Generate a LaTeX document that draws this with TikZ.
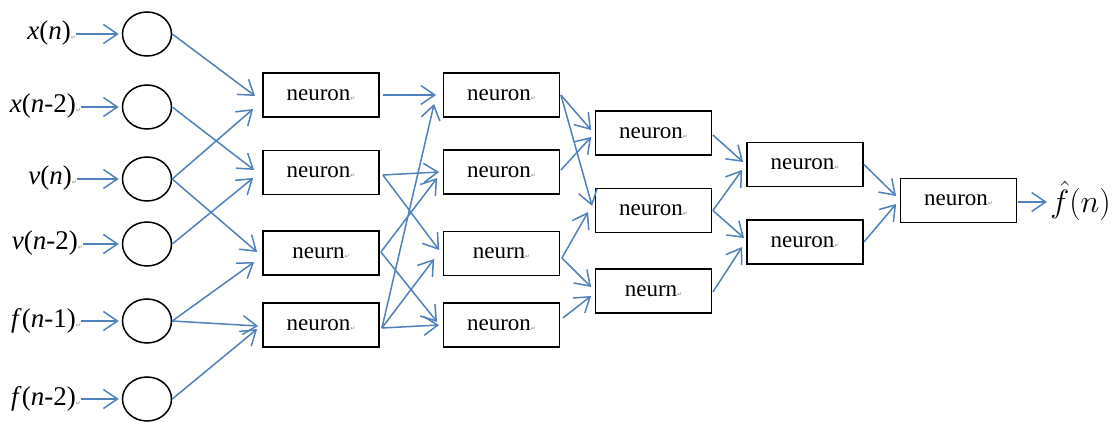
\documentclass[tikz,border=0pt]{standalone}
\usepackage{fontspec}
\setmainfont{Liberation Serif}
\newfontfamily\symfont{DejaVu Sans}
\usetikzlibrary{arrows.meta,shapes.geometric,calc}
\definecolor{lineblue}{RGB}{79,129,189}
\newcommand{\pmark}{{\symfont\fontsize{6}{6}\selectfont\color{gray}↵}}
\begin{document}
\begin{tikzpicture}[x=1pt,y=-1pt,
  neu/.style={draw=black,line width=1.8pt,minimum width=116pt,minimum height=44pt,inner sep=0pt,font=\fontsize{23}{23}\selectfont},
  inp/.style={ellipse,draw=black,line width=1.5pt,minimum width=49pt,minimum height=44pt,inner sep=0pt},
  lab/.style={inner sep=0pt,anchor=base east,font=\fontsize{27}{27}\selectfont},
  conn/.style={draw=lineblue,line width=1.5pt,-{Straight Barb[length=14pt,width=19pt]}}]
\useasboundingbox[fill=white] (0,0) rectangle (1120,422);
% input circles
\node[inp] (c1) at (147,34) {};
\node[inp] (c2) at (147,107) {};
\node[inp] (c3) at (147,179) {};
\node[inp] (c4) at (147,244) {};
\node[inp] (c5) at (147,321) {};
\node[inp] (c6) at (147,399) {};
% input labels
\node[lab] (lx1) at (76,40) {\textit{x}(\textit{n})\pmark};
\node[lab] (lx2) at (81,113) {\textit{x}(\textit{n}-2)\pmark};
\node[lab] (lx3) at (77,185) {\textit{v}(\textit{n})\pmark};
\node[lab] (lx4) at (83,250) {\textit{v}(\textit{n}-2)\pmark};
\node[lab] (lx5) at (81,327) {\textit{f}(\textit{n}-1)\pmark};
\node[lab] (lx6) at (81,405) {\textit{f}(\textit{n}-2)\pmark};
\foreach \i in {1,...,6}{
  \draw[conn] (lx\i.east |- c\i.west) -- ($(c\i.west)+(-3,0)$);
}
% layer 1
\node[neu] (L1a) at (321,95) {neuron\pmark};
\node[neu] (L1b) at (321,172.5) {neuron\pmark};
\node[neu] (L1c) at (321,253) {neurn\pmark};
\node[neu] (L1d) at (321,325) {neuron\pmark};
% layer 2
\node[neu] (L2a) at (501.5,95) {neuron\pmark};
\node[neu] (L2b) at (501.5,172) {neuron\pmark};
\node[neu] (L2c) at (501.5,253.5) {neurn\pmark};
\node[neu] (L2d) at (501.5,325) {neuron\pmark};
% layer 3
\node[neu] (L3a) at (653.5,133) {neuron\pmark};
\node[neu] (L3b) at (653.5,210.5) {neuron\pmark};
\node[neu] (L3c) at (653.5,291) {neurn\pmark};
% layer 4
\node[neu] (L4a) at (805,164.5) {neuron\pmark};
\node[neu] (L4b) at (805,242) {neuron\pmark};
% layer 5
\node[neu] (L5) at (958.5,200.5) {neuron\pmark};
% output
\node[inner sep=0pt,anchor=west,scale=1.55,font=\fontsize{20}{20}\selectfont] (out) at (1050,201) {$\hat{f}(n)$};
% inputs -> layer 1
\draw[conn] (c1.east) -- ($(L1a.west)+(-7,1)$);
\draw[conn] (c3.east) -- ($(L1a.west)+(-9,14)$);
\draw[conn] (c2.east) -- ($(L1b.west)+(-8,-2.5)$);
\draw[conn] (c4.east) -- ($(L1b.west)+(-9,5.5)$);
\draw[conn] (c3.east) -- ($(L1c.west)+(-5,-1)$);
\draw[conn] (c5.east) -- ($(L1c.west)+(-8,9)$);
\draw[conn] (c5.east) -- ($(L1d.west)+(-4,1)$);
\draw[conn] (c6.east) -- ($(L1d.west)+(-5,4)$);
% layer 1 -> layer 2
\draw[conn] ($(L1a.east)+(3,0)$) -- ($(L2a.west)+(-6.5,0)$);
\draw[conn] ($(L1d.east)+(2,3)$) -- ($(L2a.west)+(-8.5,9)$);
\draw[conn] ($(L1b.east)+(3,2.5)$) -- ($(L2b.west)+(-3.5,0)$);
\draw[conn] ($(L1c.east)+(1,-1)$) -- ($(L2b.west)+(-5.5,6)$);
\draw[conn] ($(L1b.east)+(3,2.5)$) -- ($(L2c.west)+(-3.5,-3.5)$);
\draw[conn] ($(L1d.east)+(2,3)$) -- ($(L2c.west)+(-8.5,5.5)$);
\draw[conn] ($(L1c.east)+(1,-1)$) -- ($(L2d.west)+(-5.5,-3)$);
\draw[conn] ($(L1d.east)+(2,3)$) -- ($(L2d.west)+(-3.5,0)$);
% layer 2 -> layer 3
\draw[conn] ($(L2a.east)+(0.5,0)$) -- ($(L3a.west)+(-3.5,-3)$);
\draw[conn] ($(L2b.east)+(0.5,-2)$) -- ($(L3a.west)+(-3.5,4)$);
\draw[conn] ($(L2a.east)+(0.5,0)$) -- ($(L3b.west)+(-2.5,-4.5)$);
\draw[conn] ($(L2c.east)+(1.5,4.5)$) -- ($(L3b.west)+(-6.5,1.5)$);
\draw[conn] ($(L2c.east)+(1.5,4.5)$) -- ($(L3c.west)+(-3.5,-4)$);
\draw[conn] ($(L2d.east)+(2.5,-7)$) -- ($(L3c.west)+(-3.5,5)$);
% layer 3 -> layer 4
\draw[conn] ($(L3a.east)+(0.5,2)$) -- ($(L4a.west)+(-3,-2.5)$);
\draw[conn] ($(L3b.east)+(0.5,0)$) -- ($(L4a.west)+(-4,5.5)$);
\draw[conn] ($(L3b.east)+(0.5,0)$) -- ($(L4b.west)+(-2,-4)$);
\draw[conn] ($(L3c.east)+(0.5,1)$) -- ($(L4b.west)+(-4,5)$);
% layer 4 -> layer 5
\draw[conn] (L4a.east) -- ($(L5.west)+(-3.5,-4.5)$);
\draw[conn] (L4b.east) -- ($(L5.west)+(-3.5,3.5)$);
% layer 5 -> output
\draw[conn] ($(L5.east)+(1,1.5)$) -- ($(out.west |- L5.east)+(-3,1.5)$);
\end{tikzpicture}
\end{document}
